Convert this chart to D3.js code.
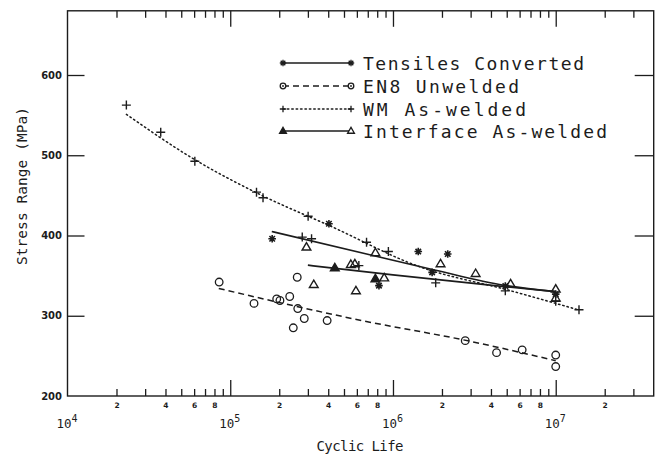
<!DOCTYPE html>
<html>
<head>
<meta charset="utf-8">
<script src="https://cdn.jsdelivr.net/npm/d3@7"></script>
<style>
  body { margin: 0; background: #fff; }
  svg { display: block; }
  .mono { font-family: "DejaVu Sans Mono", monospace; }
  .tick-num { font-family: "DejaVu Sans", sans-serif; font-weight: bold; }
</style>
</head>
<body>
<svg id="chart" width="663" height="456"></svg>
<script>
// values, [cycles, stress range MPa]
var tensilePts = [[1.81e5, 396], [4.04e5, 414.6], [8.2e5, 337.5], [1.43e6, 380], [1.74e6, 354],
    [2.17e6, 377], [4.9e6, 337], [1e7, 327]];
var en8Pts = [[8.55e4, 342], [1.40e5, 315.4], [1.93e5, 321], [2.02e5, 319], [2.32e5, 324],
    [2.44e5, 285], [2.58e5, 348], [2.60e5, 309], [2.85e5, 296.6], [3.94e5, 294],
    [2.78e6, 269], [4.33e6, 254], [6.22e6, 257.5], [1e7, 251], [1e7, 236.7]];
var wmPts = [[2.3e4, 562.5], [3.74e4, 528.75], [6.06e4, 492.5], [1.45e5, 454], [1.59e5, 447],
    [2.77e5, 398], [3.01e5, 424], [3.16e5, 396], [6.17e5, 362.5], [6.88e5, 391.6],
    [9.37e5, 380], [1.83e6, 341], [4.9e6, 331], [1e7, 318], [1.39e7, 307.5]];
var interfaceOpen = [[2.94e5, 385.4], [3.26e5, 338.75], [5.51e5, 363.75], [5.83e5, 364.6],
    [5.92e5, 331], [7.8e5, 378.4], [8.83e5, 347], [1.96e6, 364.6], [3.22e6, 352.5],
    [5.28e6, 339.6], [1e7, 333], [1e7, 322]];
var interfaceSolid = [[4.39e5, 359.6], [7.8e5, 346]];

// fitted curves as drawn in the reference
var tensileFit = [[1.8e5, 405], [7.2e5, 376], [1.8e6, 357], [4.8e6, 338], [1e7, 330]];
var en8Fit = [[8.5e4, 334], [7.2e5, 292], [2.7e6, 270], [1e7, 244]];
var wmFit = [[2.3e4, 551], [6e4, 495], [1.6e5, 449], [4.1e5, 412], [1.46e6, 361], [5.1e6, 332], [1.4e7, 307]];
var interfaceFit = [[3e5, 363], [1e6, 351], [5e6, 336], [1e7, 330]];

var legendNames = ['Tensiles Converted', 'EN8 Unwelded', 'WM As-welded', 'Interface As-welded'];
var stressTicks = [300, 400, 500, 600];
var stressLabels = [200, 300, 400, 500, 600];
var decades = [4, 5, 6, 7];
var minorSteps = [2, 3, 4, 5, 6, 7, 8, 9];
var labelledSteps = [2, 4, 6, 8];

var ink = '#1c1c1c';
var svg = d3.select('#chart');

var x = d3.scaleLog().domain([1e4, 4e7]).range([67.5, 653.7]);
var y = d3.scaleLinear().domain([200, 680]).range([396, 10.8]);

var minorVals = [];
decades.forEach(function(d) {
    minorSteps.forEach(function(k) {
        var v = k * Math.pow(10, d);
        if (v < 3.5e7) minorVals.push(v);
    });
});
var majorVals = decades.slice(1).map(function(d) { return Math.pow(10, d); });

function styleAxis(g) {
    g.select('.domain').remove();
    g.selectAll('line').attr('stroke', ink).attr('stroke-width', 1.3);
}

// frame
svg.append('rect')
    .attr('x', x.range()[0]).attr('y', y.range()[1])
    .attr('width', x.range()[1] - x.range()[0])
    .attr('height', y.range()[0] - y.range()[1])
    .attr('fill', 'none').attr('stroke', ink).attr('stroke-width', 1.4);

// bottom ticks
svg.append('g')
    .attr('transform', 'translate(0,' + y(200) + ')')
    .call(d3.axisBottom(x).tickValues(minorVals).tickSize(-7).tickPadding(7)
        .tickFormat(function(v) {
            var k = Math.round(v / Math.pow(10, Math.floor(Math.log10(v) + 1e-9)));
            return labelledSteps.indexOf(k) >= 0 ? String(k) : '';
        }))
    .call(styleAxis)
    .selectAll('text')
    .attr('class', 'tick-num').attr('font-size', 7.5).attr('fill', ink);

svg.append('g')
    .attr('transform', 'translate(0,' + y(200) + ')')
    .call(d3.axisBottom(x).tickValues(majorVals).tickSize(-16).tickFormat(''))
    .call(styleAxis);

// top ticks
svg.append('g')
    .attr('transform', 'translate(0,' + y(680) + ')')
    .call(d3.axisTop(x).tickValues(minorVals).tickSize(-7).tickFormat(''))
    .call(styleAxis);
svg.append('g')
    .attr('transform', 'translate(0,' + y(680) + ')')
    .call(d3.axisTop(x).tickValues(majorVals).tickSize(-16).tickFormat(''))
    .call(styleAxis);

// left / right ticks
svg.append('g')
    .attr('transform', 'translate(' + x(1e4) + ',0)')
    .call(d3.axisLeft(y).tickValues(stressTicks).tickSize(-17).tickFormat(''))
    .call(styleAxis);
svg.append('g')
    .attr('transform', 'translate(' + x(4e7) + ',0)')
    .call(d3.axisRight(y).tickValues(stressTicks).tickSize(-19).tickFormat(''))
    .call(styleAxis);

svg.append('g').selectAll('text')
    .data(stressLabels)
    .join('text')
    .attr('class', 'tick-num')
    .attr('x', 62).attr('y', function(d) { return y(d) + 3.5; })
    .attr('text-anchor', 'end').attr('font-size', 10).attr('fill', ink)
    .text(function(d) { return d; });

// decade labels
var dec = svg.append('g').selectAll('text')
    .data(decades)
    .join('text')
    .attr('class', 'mono')
    .attr('x', function(d) { return x(Math.pow(10, d)) - 11; })
    .attr('y', 428)
    .attr('font-size', 12.5).attr('fill', ink);
dec.append('tspan').text('10');
dec.append('tspan').attr('dy', -6).attr('font-size', 10).text(function(d) { return d; });

// axis titles
svg.append('text')
    .attr('class', 'mono')
    .attr('x', 360).attr('y', 451)
    .attr('text-anchor', 'middle').attr('font-size', 14).attr('fill', ink)
    .attr('textLength', 87)
    .text('Cyclic Life');

svg.append('text')
    .attr('class', 'mono')
    .attr('transform', 'translate(27,186) rotate(-90)')
    .attr('text-anchor', 'middle').attr('font-size', 14.5).attr('fill', ink)
    .attr('textLength', 158)
    .text('Stress Range (MPa)');

// markers
function markerPath(type, s) {
    if (type === 'plus') return 'M' + (-s) + ',0H' + s + 'M0,' + (-s) + 'V' + s;
    if (type === 'star') {
        var a = s * 0.72;
        return 'M' + (-s) + ',0H' + s + 'M0,' + (-s) + 'V' + s +
            'M' + (-a) + ',' + (-a) + 'L' + a + ',' + a + 'M' + (-a) + ',' + a + 'L' + a + ',' + (-a);
    }
    return 'M0,' + (-s) + 'L' + (s * 0.95) + ',' + (s * 0.62) + 'L' + (-s * 0.95) + ',' + (s * 0.62) + 'Z';
}

function drawMarkers(data, type, size, filled) {
    var g = svg.append('g');
    if (type === 'circle') {
        g.selectAll('circle').data(data).join('circle')
            .attr('cx', function(d) { return x(d[0]); })
            .attr('cy', function(d) { return y(d[1]); })
            .attr('r', size)
            .attr('fill', 'none').attr('stroke', ink).attr('stroke-width', 1.3);
        return;
    }
    g.selectAll('path').data(data).join('path')
        .attr('transform', function(d) { return 'translate(' + x(d[0]) + ',' + y(d[1]) + ')'; })
        .attr('d', markerPath(type, size))
        .attr('fill', filled ? ink : 'none')
        .attr('stroke', ink)
        .attr('stroke-width', type === 'star' ? 1.6 : 1.4);
}

var line = d3.line()
    .x(function(d) { return x(d[0]); })
    .y(function(d) { return y(d[1]); })
    .curve(d3.curveMonotoneX);

function drawFit(data, dash, width) {
    svg.append('path')
        .attr('d', line(data))
        .attr('fill', 'none').attr('stroke', ink)
        .attr('stroke-width', width)
        .attr('stroke-dasharray', dash)
        .attr('stroke-linecap', dash === '1.4,3' ? 'round' : 'butt');
}

drawFit(tensileFit, null, 1.7);
drawFit(interfaceFit, null, 1.7);
drawFit(en8Fit, '6,4', 1.5);
drawFit(wmFit, '1.4,3', 1.5);

drawMarkers(en8Pts, 'circle', 3.8);
drawMarkers(wmPts, 'plus', 4.5);
drawMarkers(tensilePts, 'star', 3.8);
drawMarkers(interfaceOpen, 'tri', 4.6, false);
drawMarkers(interfaceSolid, 'tri', 4.6, true);

// legend
var legendY = [63, 86, 109, 131];
var legendDash = [null, '6,4', '1.4,3', null];
var legendWidths = [221, 156, 163, 244];
var lx0 = 283, lx1 = 351;

var leg = svg.append('g');
legendNames.forEach(function(name, i) {
    var ly = legendY[i];
    leg.append('line')
        .attr('x1', lx0).attr('x2', lx1).attr('y1', ly).attr('y2', ly)
        .attr('stroke', ink).attr('stroke-width', 1.6)
        .attr('stroke-dasharray', legendDash[i])
        .attr('stroke-linecap', i === 2 ? 'round' : 'butt');
    [lx0, lx1].forEach(function(mx, j) {
        if (i === 1) {
            leg.append('circle').attr('cx', mx).attr('cy', ly).attr('r', 2.8)
                .attr('fill', '#fff').attr('stroke', ink).attr('stroke-width', 1.3);
            leg.append('circle').attr('cx', mx).attr('cy', ly).attr('r', 0.9).attr('fill', ink);
        } else {
            var type = i === 0 ? 'star' : (i === 2 ? 'plus' : 'tri');
            leg.append('path')
                .attr('transform', 'translate(' + mx + ',' + ly + ')')
                .attr('d', markerPath(type, type === 'tri' ? 3.6 : 3.2))
                .attr('fill', i === 3 && j === 0 ? ink : (i === 3 ? '#fff' : 'none'))
                .attr('stroke', ink).attr('stroke-width', 1.3);
        }
    });
    leg.append('text')
        .attr('class', 'mono')
        .attr('x', 363).attr('y', ly + 6.5)
        .attr('font-size', 18).attr('fill', ink)
        .attr('textLength', legendWidths[i])
        .text(name);
});
</script>
</body>
</html>
